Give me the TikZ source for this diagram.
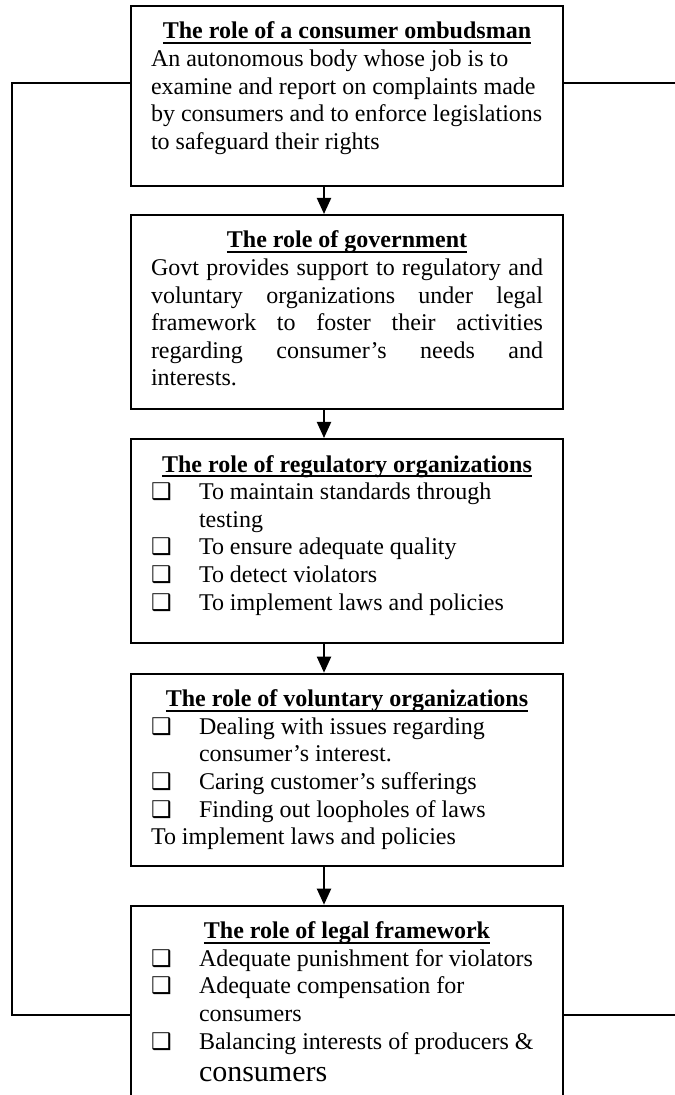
\documentclass[tikz,border=0pt]{standalone}
\usepackage{fontspec}
\setmainfont{Liberation Serif}
\newfontfamily\boxsym{DejaVu Sans}
\usetikzlibrary{positioning}
\usetikzlibrary{arrows.meta}

\newsavebox{\titlebox}
% underlined title at a fixed depth
\newcommand{\titleline}[1]{\sbox{\titlebox}{#1}\rlap{\rule[-2.6pt]{\wd\titlebox}{0.9pt}}\usebox{\titlebox}}
% contents of one box: height, then text
\newcommand{\rolecontent}[2]{\parbox[c][#1][t]{196pt}{\fontsize{12}{13.8}\selectfont #2}}
\newcommand{\roletitle}[1]{{\centering\rule{0pt}{16.5pt}\textbf{\titleline{#1}}\par}}
\newcommand{\roleitem}[1]{\par\hangindent=24pt\hangafter=1\noindent\makebox[24pt][l]{\fontsize{11.5}{11.5}\boxsym ❑}#1\par}

\tikzset{
  rolebox/.style={draw, line width=1pt, inner xsep=10pt, inner ysep=0pt},
  link/.style={line width=1pt, -{Triangle[length=8pt,width=7pt]}},
  rail/.style={line width=1pt}
}

\begin{document}
\begin{tikzpicture}[x=0.5pt,y=-0.5pt]
    \useasboundingbox (0,0) rectangle (674,1095);

    \node (ombud) [rolebox, anchor=north] at (347,5) {\rolecontent{90pt}{%
      \roletitle{The role of a consumer ombudsman}
      \raggedright
      An autonomous body whose job is to\\
      examine and report on complaints made\\
      by consumers and to enforce legislations\\
      to safeguard their rights\par}};

    \node (govt) [rolebox, below=13.5pt of ombud] {\rolecontent{96.85pt}{%
      \roletitle{The role of government}
      \rule{0pt}{10.5pt}Govt provides support to regulatory and\linebreak
      voluntary organizations under legal\linebreak
      framework to foster their activities\linebreak
      regarding consumer’s needs and\linebreak
      interests.\par}};

    \node (regul) [rolebox, below=14.15pt of govt] {\rolecontent{101.85pt}{%
      \roletitle{The role of regulatory organizations}
      \raggedright
      \roleitem{To maintain standards through\newline testing}
      \roleitem{To ensure adequate quality}
      \roleitem{To detect violators}
      \roleitem{To implement laws and policies}}};

    \node (volun) [rolebox, below=14.5pt of regul] {\rolecontent{96.15pt}{%
      \roletitle{The role of voluntary organizations}
      \raggedright
      \roleitem{Dealing with issues regarding\newline consumer’s interest.}
      \roleitem{Caring customer’s sufferings}
      \roleitem{Finding out loopholes of laws}
      To implement laws and policies\par}};

    \node (legal) [rolebox, below=18.85pt of volun] {\rolecontent{96pt}{%
      \roletitle{The role of legal framework}
      \raggedright
      \roleitem{Adequate punishment for violators}
      \roleitem{Adequate compensation for\newline consumers}
      \roleitem{Balancing interests of producers \&\newline
        \rule{0pt}{12.5pt}{\fontsize{15}{16}\selectfont consumers}}}};

    \foreach \a/\b in {ombud/govt, govt/regul, regul/volun, volun/legal} {
      \draw[link] ([xshift=-11.5pt]\a.south) -- ([xshift=-11.5pt]\b.north);
    }

    % side lines
    \coordinate (leftrail) at (12,0);
    \coordinate (rightedge) at (675,0);
    \coordinate (ombudL) at ([yshift=6.65pt]ombud.west);
    \coordinate (ombudR) at ([yshift=6.65pt]ombud.east);
    \coordinate (legalL) at ([yshift=-6.6pt]legal.west);
    \coordinate (legalR) at ([yshift=-6.6pt]legal.east);
    \draw[rail] (ombudL) -| (leftrail |- legalL) -- (legalL);
    \draw[rail] (ombudR) -- (ombudR -| rightedge);
    \draw[rail] (legalR) -- (legalR -| rightedge);
  \end{tikzpicture}
\end{document}
